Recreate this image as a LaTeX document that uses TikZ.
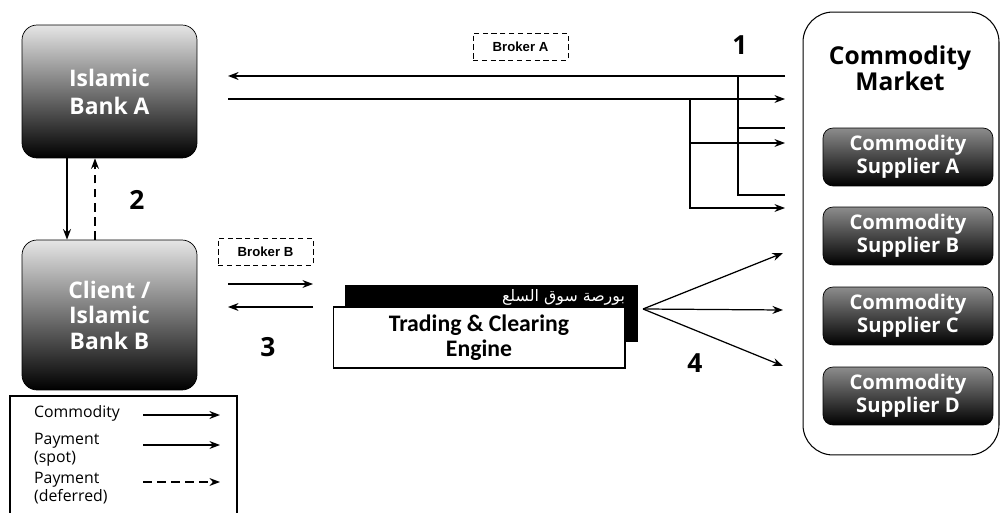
\documentclass[tikz,border=0pt]{standalone}
\usepackage{fontspec}
\setmainfont{Open Sans}
\newfontfamily\arabicfont[Script=Arabic]{DejaVu Sans}
\newfontfamily\engfont{Carlito}
\newfontfamily\brokerfont{Liberation Sans}
\TeXXeTstate=1
\usetikzlibrary{positioning, arrows.meta}

\tikzset{
        bank/.style={draw=black, rounded corners=0.3cm, top color=black!10, middle color=black!70, bottom color=black, text=white, align=center, minimum width=3.5cm, font=\fontsize{13}{16}\selectfont\bfseries},
        supplier/.style={draw=black, rounded corners=0.2cm, top color=black!45, middle color=black!90, bottom color=black, text=white, align=center, minimum width=3.4cm, minimum height=1.16cm, font=\fontsize{11.5}{13}\selectfont\bfseries},
        broker/.style={draw=black, densely dashed, line width=0.5pt, minimum width=1.9cm, minimum height=0.54cm, font=\brokerfont\fontsize{7.5}{9}\selectfont\bfseries},
        market/.style={draw=black, line width=0.6pt, rounded corners=0.6cm, minimum width=3.92cm, minimum height=8.86cm},
        num/.style={font=\fontsize{15}{16}\selectfont\bfseries},
        legend/.style={align=left, font=\fontsize{9}{10}\selectfont},
        commodity/.style={line width=1.2pt},
        payment/.style={line width=0.7pt},
        deferred/.style={line width=0.8pt, dash pattern=on 5pt off 3pt}
}

\begin{document}
\begin{tikzpicture}[x=0.02cm, y=-0.02cm, >={Stealth[length=6pt, width=4.5pt]}]
        \useasboundingbox (0,0) rectangle (1001,513);
        \node[bank, minimum height=2.66cm] (bankA) at (109.5,91.5) {Islamic\\Bank A};
        \node[bank, minimum height=3cm, font=\fontsize{13}{14.5}\selectfont\bfseries] (bankB) at (109.5,315) {Client /\\Islamic\\Bank B};
        \node[broker] (brokerA) at (520.5,46.5) {Broker A};
        \node[broker] (brokerB) at (265.5,251.5) {Broker B};
        \node[market] (market) at (901,233.5) {};
        \node[align=center, font=\fontsize{14}{15}\selectfont\bfseries] (mtitle) at (900,68) {Commodity\\Market};
        \node[supplier] (supA) at (908,157) {Commodity\\Supplier A};
        \node[supplier] (supB) at (908,236) {Commodity\\Supplier B};
        \node[supplier] (supC) at (908,316) {Commodity\\Supplier C};
        \node[supplier] (supD) at (908,396) {Commodity\\Supplier D};
        \node[fill=black, minimum width=5.86cm, minimum height=1.14cm] (engB) at (491.5,313.5) {};
        \node[draw=black, fill=white, line width=0.6pt, minimum width=5.84cm, minimum height=1.22cm, align=center, font=\engfont\fontsize{13.5}{14.5}\selectfont\bfseries] (engF) at (479,337.5) {Trading \& Clearing\\Engine};
        \node[anchor=east, text=white, inner sep=1pt, font=\fontsize{9}{10}\selectfont] (arab) at (627,297) {\arabicfont\beginR بورصة سوق السلع\endR};
        \node[num] (k1) at (740,45) {1};
        \node[num] (k2) at (137,200) {2};
        \node[num] (k3) at (268,347) {3};
        \node[num] (k4) at (695,363) {4};
        \coordinate (a1) at (228,76);
        \coordinate (a2) at (785,76);
        \coordinate (b1) at (228,99);
        \coordinate (b2) at (785,99);
        \coordinate (t1) at (738,76);
        \coordinate (t2) at (785,128);
        \coordinate (t3) at (785,195);
        \coordinate (p1) at (690,99);
        \coordinate (p2) at (785,143);
        \coordinate (p3) at (785,208);
        \draw[commodity, ->] (a2) -- (a1);
        \draw[payment, ->] (b1) -- (b2);
        \draw[commodity] (t1) |- (t3);
        \draw[commodity] (t1 |- t2) -- (t2);
        \draw[payment, ->] (p1) |- (p3);
        \draw[payment, ->] (p1 |- p2) -- (p2);
        \draw[commodity, ->] (bankA.south -| 67,0) -- (bankB.north -| 67,0);
        \draw[deferred, ->] (bankB.north -| 95,0) -- (bankA.south -| 95,0);
        \coordinate (q1) at (228,284);
        \coordinate (q2) at (313,284);
        \coordinate (q3) at (228,307);
        \coordinate (q4) at (313,307);
        \draw[payment, ->] (q1) -- (q2);
        \draw[payment, ->] (q4) -- (q3);
        \coordinate (f0) at (643,309);
        \coordinate (f1) at (783,253);
        \coordinate (f2) at (783,310);
        \coordinate (f3) at (783,366);
        \draw[payment, ->] (f0) -- (f1);
        \draw[payment, ->] (f0) -- (f2);
        \draw[payment, ->] (f0) -- (f3);
        \draw[line width=0.6pt] (10,513) |- (237,396) -- (237,513);
        \node[legend, anchor=west] (l1) at (28,413) {Commodity};
        \node[legend, anchor=west] (l2) at (28,450) {Payment\\(spot)};
        \node[legend, anchor=west] (l3) at (28,488) {Payment\\(deferred)};
        \coordinate (m1) at (143,415);
        \coordinate (m2) at (220,415);
        \coordinate (m3) at (143,445);
        \coordinate (m4) at (220,445);
        \coordinate (m5) at (143,482);
        \coordinate (m6) at (220,482);
        \draw[commodity, ->] (m1) -- (m2);
        \draw[payment, ->] (m3) -- (m4);
        \draw[deferred, ->] (m5) -- (m6);
\end{tikzpicture}
\end{document}
